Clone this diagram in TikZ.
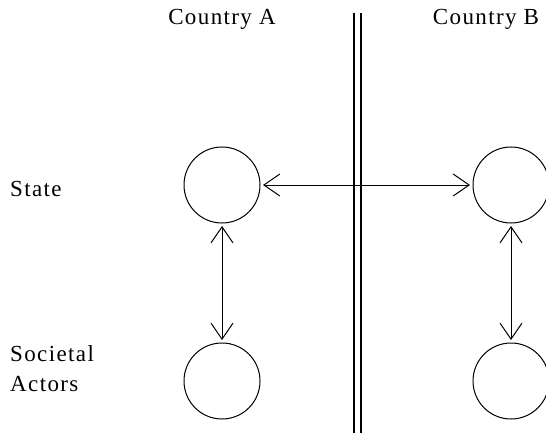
\documentclass[tikz,border=0pt]{standalone}
\usepackage{fontspec}
\setmainfont{Liberation Serif}[LetterSpace=6]
\usetikzlibrary{arrows.meta}
\begin{document}
\begin{tikzpicture}[x=1pt,y=-1pt,
  actor/.style={circle,draw,line width=1pt,minimum size=76pt,inner sep=0pt,outer sep=3pt},
  lbl/.style={font=\fontsize{23}{30}\selectfont,inner sep=0pt},
  link/.style={line width=1pt,{Straight Barb[length=16pt,width=22pt,line width=1pt]}-{Straight Barb[length=16pt,width=22pt,line width=1pt]}},
  border/.style={line width=1.3pt}]
\useasboundingbox (0,0) rectangle (546,433);
\node[lbl,anchor=base] (ca) at (222,25) {Country A};
\node[lbl,anchor=base] (cb) at (486,25) {Country B};
\node[lbl,anchor=base west] (st) at (10,196) {State};
\node[lbl,anchor=base west,align=left] (sa) at (10,391) {Societal\\Actors};
\coordinate (b1t) at (354,13); \coordinate (b1b) at (354,433);
\coordinate (b2t) at (361,13); \coordinate (b2b) at (361,433);
\draw[border] (b1t) -- (b1b);
\draw[border] (b2t) -- (b2b);
\node[actor] (as) at (222,185) {};
\node[actor] (bs) at (511,185) {};
\node[actor] (aa) at (222,381) {};
\node[actor] (ba) at (511,381) {};
\draw[link] (as) -- (bs);
\draw[link] (as) -- (aa);
\draw[link] (bs) -- (ba);
\end{tikzpicture}
\end{document}
